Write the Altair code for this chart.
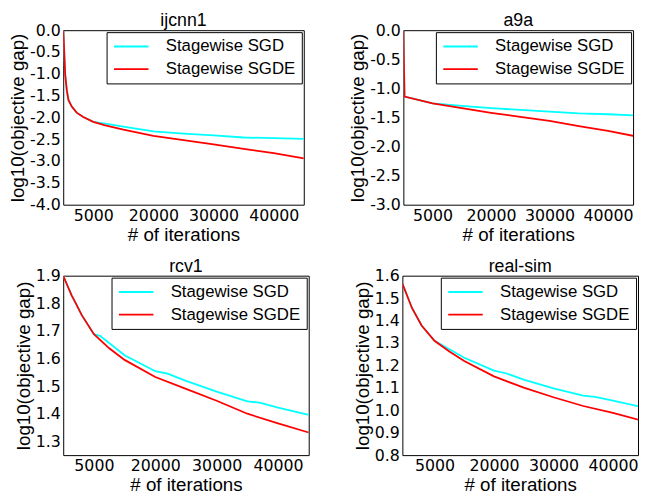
import altair as alt
import pandas as pd

SERIES = ["Stagewise SGD", "Stagewise SGDE"]
COLORS = ["#00FFFF", "#FF0000"]
TITLES = ["ijcnn1", "a9a", "rcv1", "real-sim"]
XTICK_VALUES = [10000, 20000, 30000, 40000]
XTICK_LABELS = ["5000", "20000", "30000", "40000"]

# ijcnn1
ijcnn1_sgd_x = [5000, 5110, 5330, 5600, 5870, 6420, 7240, 8330, 10000, 12000, 15000, 20000, 25000, 30000, 35000, 40000, 45000]
ijcnn1_sgd_y = [0.0, -0.3, -1.02, -1.38, -1.6, -1.75, -1.89, -1.99, -2.1, -2.14, -2.21, -2.32, -2.37, -2.41, -2.46, -2.475, -2.49]
ijcnn1_sgde_x = [5000, 5110, 5330, 5600, 5870, 6420, 7240, 8330, 10000, 12000, 15000, 20000, 25000, 30000, 35000, 40000, 45000]
ijcnn1_sgde_y = [0.0, -0.3, -1.02, -1.38, -1.6, -1.75, -1.89, -1.99, -2.1, -2.18, -2.28, -2.42, -2.52, -2.62, -2.72, -2.82, -2.94]

# a9a
a9a_sgd_x = [5000, 5200, 10000, 15000, 20000, 25000, 30000, 35000, 40000, 45000]
a9a_sgd_y = [0.0, -1.14, -1.26, -1.30, -1.34, -1.37, -1.40, -1.43, -1.445, -1.465]
a9a_sgde_x = [5000, 5200, 10000, 15000, 20000, 25000, 30000, 35000, 40000, 45000]
a9a_sgde_y = [0.0, -1.14, -1.26, -1.34, -1.42, -1.49, -1.56, -1.65, -1.73, -1.83]

# rcv1
rcv1_sgd_x = [5000, 5590, 6390, 6930, 8000, 10000, 11000, 15000, 20000, 22000, 25000, 30000, 35000, 37000, 40000, 45000]
rcv1_sgd_y = [1.9, 1.869, 1.828, 1.805, 1.758, 1.688, 1.682, 1.612, 1.554, 1.545, 1.519, 1.480, 1.445, 1.440, 1.422, 1.396]
rcv1_sgde_x = [5000, 5590, 6390, 6930, 8000, 10000, 12500, 15000, 20000, 25000, 30000, 35000, 40000, 45000]
rcv1_sgde_y = [1.9, 1.869, 1.828, 1.805, 1.758, 1.688, 1.637, 1.595, 1.533, 1.490, 1.447, 1.400, 1.365, 1.332]

# real-sim
realsim_sgd_x = [4600, 6210, 7830, 10000, 15000, 20000, 22000, 25000, 30000, 35000, 37000, 40000, 45000]
realsim_sgd_y = [1.565, 1.456, 1.378, 1.310, 1.234, 1.177, 1.165, 1.137, 1.098, 1.065, 1.060, 1.043, 1.014]
realsim_sgde_x = [4600, 6210, 7830, 10000, 12500, 15000, 20000, 25000, 30000, 35000, 40000, 45000]
realsim_sgde_y = [1.565, 1.456, 1.378, 1.310, 1.262, 1.220, 1.151, 1.101, 1.058, 1.019, 0.988, 0.953]

YTICKS_IJCNN1 = [-4.0, -3.5, -3.0, -2.5, -2.0, -1.5, -1.0, -0.5, 0.0]
YTICKS_A9A = [-3.0, -2.5, -2.0, -1.5, -1.0, -0.5, 0.0]
YTICKS_RCV1 = [1.3, 1.4, 1.5, 1.6, 1.7, 1.8, 1.9]
YTICKS_REALSIM = [0.8, 0.9, 1.0, 1.1, 1.2, 1.3, 1.4, 1.5, 1.6]

SANS = "Liberation Sans"
TICKFONT = "DejaVu Sans"

x_label_expr = " : ".join(
    f"datum.value == {v} ? '{l}'" for v, l in zip(XTICK_VALUES, XTICK_LABELS)
) + " : ''"
y_label_expr = "replace(format(datum.value, '.1f'), '\u2212', '-')"


def panel(title, sx, sy, ex, ey, xdomain, ydomain, yticks, w, h):
    df = pd.DataFrame({
        "iter": sx + ex,
        "gap": sy + ey,
        "method": [SERIES[0]] * len(sx) + [SERIES[1]] * len(ex),
    })
    return alt.Chart(
        df,
        title=alt.Title(title, fontSize=18, font=SANS, fontWeight="normal", offset=-8),
    ).mark_line(strokeWidth=1.8, clip=True).encode(
        x=alt.X(
            "iter:Q",
            scale=alt.Scale(domain=xdomain, nice=False, zero=False),
            axis=alt.Axis(values=XTICK_VALUES, labelExpr=x_label_expr, title="# of iterations"),
        ),
        y=alt.Y(
            "gap:Q",
            scale=alt.Scale(domain=ydomain, nice=False, zero=False),
            axis=alt.Axis(values=yticks, labelExpr=y_label_expr, title="log10(objective gap)"),
        ),
        color=alt.Color(
            "method:N",
            scale=alt.Scale(domain=SERIES, range=COLORS),
            legend=alt.Legend(
                title=None,
                orient="top-right",
                offset=2,
                strokeColor="black",
                fillColor="white",
                padding=6,
                labelFont=SANS,
                labelFontSize=17,
                labelColor="black",
                symbolType="M-1.75,0H7",
                symbolSize=64,
                symbolStrokeWidth=2,
                labelOffset=37,
                rowPadding=5,
            ),
        ),
    ).properties(width=w, height=h)


p1 = panel(TITLES[0], ijcnn1_sgd_x, ijcnn1_sgd_y, ijcnn1_sgde_x, ijcnn1_sgde_y, [5000, 45000], [-4.0, 0.0], YTICKS_IJCNN1, 244, 177)
p2 = panel(TITLES[1], a9a_sgd_x, a9a_sgd_y, a9a_sgde_x, a9a_sgde_y, [5000, 44290], [-3.0, 0.0], YTICKS_A9A, 233, 177)
p3 = panel(TITLES[2], rcv1_sgd_x, rcv1_sgd_y, rcv1_sgde_x, rcv1_sgde_y, [5000, 45000], [1.25, 1.9], YTICKS_RCV1, 249, 182)
p4 = panel(TITLES[3], realsim_sgd_x, realsim_sgd_y, realsim_sgde_x, realsim_sgde_y, [4600, 44210], [0.8, 1.6], YTICKS_REALSIM, 239, 182)

row1 = alt.hconcat(p1, p2, spacing=44).resolve_scale(color="independent").resolve_legend(color="independent")
row2 = alt.hconcat(p3, p4, spacing=44).resolve_scale(color="independent").resolve_legend(color="independent")

chart = alt.vconcat(row1, row2, spacing=12).resolve_scale(color="independent").resolve_legend(
    color="independent"
).configure_view(
    stroke="black", strokeWidth=1
).configure_axis(
    domain=False,
    ticks=False,
    grid=False,
    labelFont=TICKFONT,
    labelFontSize=16,
    labelColor="black",
    labelPadding=3,
    titleFont=SANS,
    titleFontSize=19,
    titleFontWeight="normal",
    titleColor="black",
    titlePadding=2,
).properties(
    padding=0
)

chart.save("out.html", embed_options={"renderer": "svg", "actions": False})
